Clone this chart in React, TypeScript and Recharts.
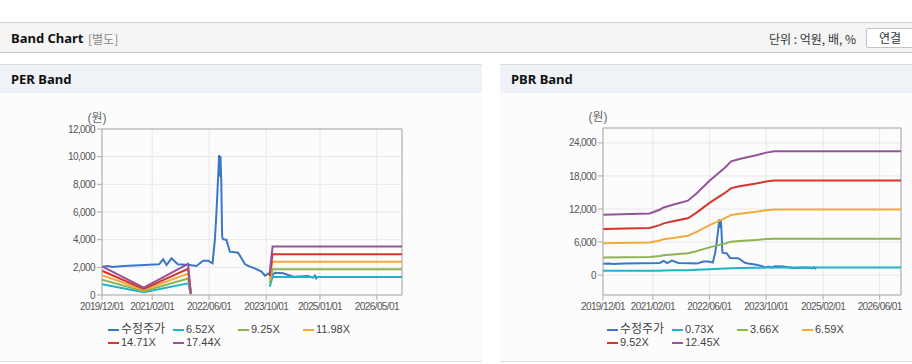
import React from 'react';
import { LineChart, Line, XAxis, YAxis, CartesianGrid, Legend, ReferenceLine } from 'recharts';

// 수정주가 (shared by both charts)
const priceDates = [
  '2019-12-01', '2020-01-27', '2020-02-25', '2020-06-04', '2020-10-15', '2021-03-31', '2021-05-05',
  '2021-06-03', '2021-07-15', '2021-09-07', '2021-12-18', '2022-02-13', '2022-04-11', '2022-05-23',
  '2022-06-30', '2022-07-20', '2022-08-03', '2022-08-17', '2022-08-25', '2022-08-31', '2022-09-06',
  '2022-09-13', '2022-09-20', '2022-09-28', '2022-10-27', '2022-11-25', '2023-02-03', '2023-04-02',
  '2023-04-30', '2023-06-26', '2023-08-22', '2023-09-19', '2023-10-26', '2023-11-15', '2023-12-14',
  '2024-02-22', '2024-05-18', '2024-09-23', '2024-11-02', '2024-11-19', '2024-12-03',
];
const priceValues = [
  2050, 2100, 2030, 2100, 2150, 2220, 2580,
  2170, 2650, 2220, 2170, 2100, 2480, 2480,
  2290, 3980, 6020, 8550, 10120, 8550, 10050,
  8080, 4210, 4030, 3980, 3130, 3060, 2240,
  2100, 1930, 1690, 1400, 1570, 1370, 1610,
  1570, 1320, 1370, 1250, 1400, 1130,
];

// PER band
const perDates = ['2019-12-01', '2020-11-21', '2021-12-04', '2021-12-27', '2022-12-01', '2023-10-31', '2023-11-12', '2023-11-24', '2026-12-01'];
const per652 = [775, 195, 845, 45, null, 600, 980, 1310, 1310];
const per925 = [1100, 280, 1195, 65, null, 850, 1390, 1860, 1860];
const per1198 = [1425, 360, 1545, 85, null, 1100, 1800, 2410, 2410];
const per1471 = [1750, 440, 1900, 105, null, 1355, 2205, 2950, 2950];
const per1744 = [2075, 525, 2250, 120, null, 1600, 2615, 3500, 3500];
const perLabels = ['6.52X', '9.25X', '11.98X', '14.71X', '17.44X'];

// PBR band
const pbrDates = [
  '2019-12-01', '2021-01-04', '2021-03-31', '2021-05-04', '2021-07-23', '2021-11-28', '2022-02-08', '2022-06-02',
  '2022-10-09', '2022-12-05', '2023-02-14', '2023-07-07', '2023-10-01', '2023-12-11', '2026-12-01',
];
const pbr073 = [780, 790, 820, 840, 870, 900, 960, 1080, 1200, 1260, 1290, 1330, 1380, 1400, 1400];
const pbr366 = [3220, 3290, 3490, 3610, 3760, 3970, 4340, 5040, 5720, 6070, 6200, 6390, 6540, 6610, 6610];
const pbr659 = [5800, 5930, 6280, 6500, 6760, 7150, 7820, 9070, 10290, 10930, 11160, 11510, 11770, 11900, 11900];
const pbr952 = [8380, 8570, 9070, 9400, 9770, 10330, 11300, 13110, 14870, 15790, 16130, 16620, 17000, 17180, 17180];
const pbr1245 = [10960, 11200, 11870, 12290, 12780, 13510, 14780, 17140, 19450, 20650, 21090, 21740, 22230, 22470, 22470];
const pbrLabels = ['0.73X', '3.66X', '6.59X', '9.52X', '12.45X'];

const perTicks = ['2019-12-01', '2021-02-01', '2022-06-01', '2023-10-01', '2025-01-01', '2026-05-01'];
const pbrTicks = ['2019-12-01', '2021-02-01', '2022-06-01', '2023-10-01', '2025-02-01', '2026-06-01'];
const perYTicks = [0, 2000, 4000, 6000, 8000, 10000, 12000];
const pbrYTicks = [0, 6000, 12000, 18000, 24000];
const xStart = '2019-12-01';
const xEnd = '2026-12-01';

const colors = ['#3a77c6', '#1fb3c8', '#8cb552', '#f4a93b', '#d6362b', '#96529d'];
const font = '"Liberation Sans", Arial, "Noto Sans CJK KR", sans-serif';

const ts = (d: string) => Date.parse(d + 'T00:00:00Z');
const pad = (n: number) => String(n).padStart(2, '0');
const fmtDate = (t: number) => {
  const d = new Date(t);
  return `${d.getUTCFullYear()}/${pad(d.getUTCMonth() + 1)}/${pad(d.getUTCDate())}`;
};
const zip = (dates: string[], vals: (number | null)[]) => dates.map((d, i) => ({ t: ts(d), v: vals[i] }));

const tickStyle = { fontSize: 10, fill: '#555', letterSpacing: -0.6 };

function UnitLabel(props: any) {
  const vb = props.viewBox || {};
  return (
    <text x={vb.x + vb.width - 5} y={vb.y - 7} textAnchor="middle" fontSize={12} fill="#666" fontFamily={font}>
      (원)
    </text>
  );
}

function BandLegend({ items }: { items: { name: string; color: string }[] }) {
  return (
    <div style={{ display: 'flex', flexWrap: 'wrap', width: 260, height: 26, fontFamily: font, fontSize: 11, color: '#444' }}>
      {items.map((it) => (
        <div key={it.name} style={{ width: 65, height: 13, lineHeight: '13px', display: 'flex', alignItems: 'center', whiteSpace: 'nowrap', overflow: 'visible' }}>
          <span style={{ display: 'inline-block', width: 11, height: 2, background: it.color, marginRight: 2, flex: 'none' }} />
          <span style={{ fontSize: it.name === '수정주가' ? 12 : 11 }}>{it.name}</span>
        </div>
      ))}
    </div>
  );
}

type Series = { name: string; color: string; data: { t: number; v: number | null }[] };

function BandChart(props: {
  width: number; yAxisWidth: number; marginRight: number; marginTop: number;
  series: Series[]; xTicks: string[]; yTicks: number[]; yDomain: [number, number]; legendLeft: number;
}) {
  const { width, yAxisWidth, marginRight, marginTop, series, xTicks, yTicks, yDomain, legendLeft } = props;
  const axisColor = '#aaa';
  return (
    <LineChart width={width} height={268} margin={{ top: marginTop, right: marginRight, left: 0, bottom: 12 }} style={{ fontFamily: font }}>
      <CartesianGrid stroke="#e8e8e8" />
      <XAxis
        type="number" dataKey="t" domain={[ts(xStart), ts(xEnd)]} allowDataOverflow
        ticks={xTicks.map(ts)} tickFormatter={fmtDate} interval={0} height={28}
        tick={tickStyle} tickSize={5} tickMargin={3}
        axisLine={{ stroke: axisColor }} tickLine={{ stroke: axisColor }}
      />
      <YAxis
        type="number" domain={yDomain} allowDataOverflow ticks={yTicks} interval={0} width={yAxisWidth}
        tickFormatter={(v: number) => v.toLocaleString('en-US')}
        tick={tickStyle} tickSize={5} tickMargin={2}
        axisLine={{ stroke: axisColor }} tickLine={{ stroke: axisColor }}
        label={<UnitLabel />}
      />
      <ReferenceLine x={ts(xEnd)} stroke={axisColor} />
      <ReferenceLine y={yDomain[1]} stroke={axisColor} />
      {series.map((s) => (
        <Line key={s.name} data={s.data} dataKey="v" name={s.name} type="linear" stroke={s.color}
          strokeWidth={2} dot={false} activeDot={false} connectNulls={false} isAnimationActive={false} />
      ))}
      <Legend verticalAlign="bottom" align="left" wrapperStyle={{ left: legendLeft, bottom: 12, width: 270 }}
        content={() => <BandLegend items={series.map((s) => ({ name: s.name, color: s.color }))} />} />
    </LineChart>
  );
}

const price = zip(priceDates, priceValues);

const perSeries: Series[] = [
  { name: '수정주가', color: colors[0], data: price },
  ...[per652, per925, per1198, per1471, per1744].map((vals, i) => ({ name: perLabels[i], color: colors[i + 1], data: zip(perDates, vals) })),
];
const pbrSeries: Series[] = [
  { name: '수정주가', color: colors[0], data: price },
  ...[pbr073, pbr366, pbr659, pbr952, pbr1245].map((vals, i) => ({ name: pbrLabels[i], color: colors[i + 1], data: zip(pbrDates, vals) })),
];

function Panel({ left, width, title, children }: { left: number; width: number; title: string; children: React.ReactNode }) {
  return (
    <div style={{ position: 'absolute', left, top: 64, width, height: 298, borderTop: '1px solid #dcdcdc', borderBottom: '1px solid #dcdcdc', background: '#fcfcfd', boxSizing: 'border-box' }}>
      <div style={{ height: 28, background: '#eff2f7', fontWeight: 'bold', fontSize: 13, lineHeight: '28px', paddingLeft: 11, color: '#111', fontFamily: '"Noto Sans", Arial, sans-serif' }}>{title}</div>
      <div style={{ position: 'absolute', left: 0, top: 28 }}>{children}</div>
    </div>
  );
}

export default function App() {
  return (
    <div style={{ position: 'absolute', left: 0, top: 0, width: 912, height: 364, background: '#fff', overflow: 'hidden', fontFamily: font }}>
      <div style={{ position: 'absolute', left: 0, top: 22, width: 912, height: 31, background: '#f5f5f5', borderTop: '1px solid #cfcfcf', borderBottom: '1px solid #c4c4c4', boxSizing: 'border-box' }}>
        <span style={{ position: 'absolute', left: 11, top: 6, fontSize: 13, fontWeight: 'bold', color: '#111', fontFamily: '"Noto Sans", Arial, sans-serif' }}>Band Chart</span>
        <span style={{ position: 'absolute', left: 88, top: 7, fontSize: 12, color: '#888', fontFamily: '"Noto Sans CJK KR", sans-serif' }}>[별도]</span>
        <span style={{ position: 'absolute', left: 769, top: 7, fontSize: 12, color: '#333', fontFamily: '"Noto Sans CJK KR", sans-serif' }}>단위 : 억원, 배, %</span>
        <div style={{ position: 'absolute', left: 866, top: 5, width: 50, height: 20, background: '#fff', border: '1px solid #c4c4c4', borderRadius: 2, boxSizing: 'border-box', fontSize: 12, color: '#333', lineHeight: '18px', paddingLeft: 12, fontFamily: '"Noto Sans CJK KR", sans-serif' }}>연결</div>
      </div>
      <Panel left={0} width={482} title="PER Band">
        <BandChart width={482} yAxisWidth={102} marginRight={80} marginTop={36} series={perSeries}
          xTicks={perTicks} yTicks={perYTicks} yDomain={[0, 12000]} legendLeft={108} />
      </Panel>
      <Panel left={500} width={412} title="PBR Band">
        <BandChart width={412} yAxisWidth={103} marginRight={11} marginTop={35} series={pbrSeries}
          xTicks={pbrTicks} yTicks={pbrYTicks} yDomain={[-3600, 26700]} legendLeft={107} />
      </Panel>
    </div>
  );
}
